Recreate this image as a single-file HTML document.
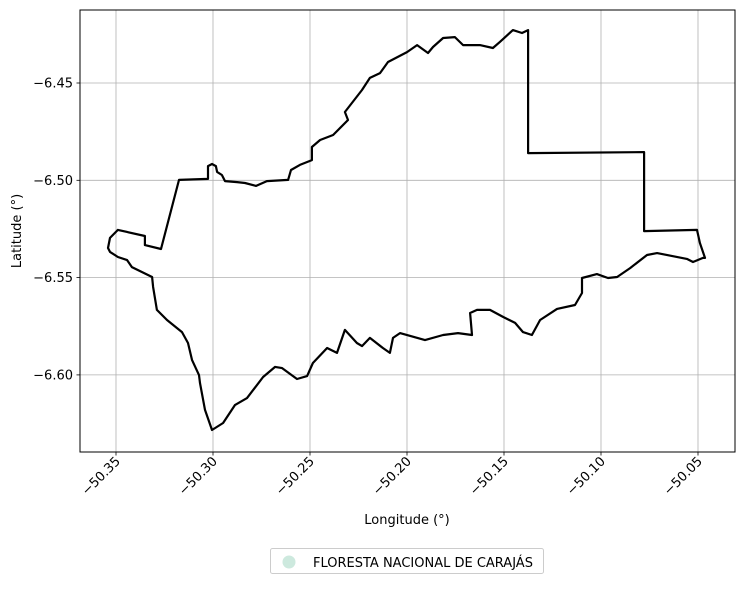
<!DOCTYPE html>
<html><head><meta charset="utf-8"><style>
body{margin:0;background:#fff;}
svg text{font-family:"DejaVu Sans","Liberation Sans",sans-serif;font-size:13px;fill:#000;}
</style></head><body>
<svg id="chart" width="743" height="584" xmlns="http://www.w3.org/2000/svg">
<g id="grid"></g>
<g id="shape"></g>
<rect x="80" y="10" width="655" height="442" fill="none" stroke="#000" stroke-width="1"/>
<g id="axes"></g>
<text x="407" y="524" text-anchor="middle">Longitude (°)</text>
<text transform="translate(21,231) rotate(-90)" text-anchor="middle">Latitude (°)</text>
<g>
<rect x="270.5" y="548.5" width="273" height="25" rx="2" fill="#fff" stroke="#ccc"/>
<circle cx="289" cy="562" r="6.5" fill="#cde9de"/>
<text x="313" y="567">FLORESTA NACIONAL DE CARAJÁS</text>
</g>
</svg>
<script>
const xTicks=[-50.35,-50.30,-50.25,-50.20,-50.15,-50.10,-50.05];
const yTicks=[-6.45,-6.50,-6.55,-6.60];
const lons=[-50.3490,-50.3351,-50.3351,-50.3268,-50.3175,-50.3026,-50.3026,-50.3005,-50.2985,-50.2979,-50.2954,-50.2938,-50.2876,-50.2835,-50.2778,-50.2722,-50.2613,-50.2598,-50.2552,-50.2490,-50.2490,-50.2448,-50.2381,-50.2304,-50.2320,-50.2232,-50.2191,-50.2139,-50.2098,-50.2000,-50.1948,-50.1892,-50.1866,-50.1814,-50.1753,-50.1711,-50.1624,-50.1557,-50.1521,-50.1454,-50.1407,-50.1376,-50.1376,-50.0778,-50.0778,-50.0505,-50.0490,-50.0464,-50.0474,-50.0526,-50.0557,-50.0711,-50.0763,-50.0850,-50.0917,-50.0964,-50.1021,-50.1098,-50.1098,-50.1134,-50.1227,-50.1314,-50.1356,-50.1402,-50.1443,-50.1505,-50.1572,-50.1639,-50.1675,-50.1665,-50.1737,-50.1814,-50.1907,-50.2036,-50.2072,-50.2088,-50.2124,-50.2191,-50.2232,-50.2258,-50.2320,-50.2361,-50.2412,-50.2485,-50.2515,-50.2567,-50.2644,-50.2680,-50.2742,-50.2825,-50.2887,-50.2948,-50.3005,-50.3041,-50.3067,-50.3072,-50.3108,-50.3129,-50.3160,-50.3237,-50.3289,-50.3309,-50.3314,-50.3418,-50.3443,-50.3490,-50.3531,-50.3541,-50.3531];
const lats=[-6.5255,-6.5286,-6.5333,-6.5353,-6.4998,-6.4993,-6.4927,-6.4916,-6.4927,-6.4957,-6.4973,-6.5004,-6.5009,-6.5014,-6.5029,-6.5004,-6.4998,-6.4947,-6.4921,-6.4896,-6.4829,-6.4793,-6.4767,-6.4690,-6.4649,-6.4536,-6.4474,-6.4449,-6.4392,-6.4341,-6.4305,-6.4346,-6.4315,-6.4269,-6.4264,-6.4305,-6.4305,-6.4320,-6.4289,-6.4228,-6.4243,-6.4228,-6.4860,-6.4855,-6.5261,-6.5255,-6.5322,-6.5399,-6.5399,-6.5420,-6.5404,-6.5374,-6.5384,-6.5451,-6.5497,-6.5502,-6.5482,-6.5502,-6.5579,-6.5641,-6.5661,-6.5718,-6.5795,-6.5780,-6.5733,-6.5702,-6.5666,-6.5666,-6.5682,-6.5795,-6.5785,-6.5795,-6.5821,-6.5785,-6.5810,-6.5887,-6.5862,-6.5810,-6.5852,-6.5836,-6.5769,-6.5887,-6.5862,-6.5939,-6.6006,-6.6021,-6.5965,-6.5959,-6.6011,-6.6119,-6.6155,-6.6247,-6.6283,-6.6180,-6.6042,-6.6001,-6.5923,-6.5836,-6.5780,-6.5718,-6.5666,-6.5548,-6.5497,-6.5446,-6.5410,-6.5394,-6.5368,-6.5348,-6.5296];
const NS='http://www.w3.org/2000/svg';
function xs(v){return 116+(v+50.35)*1940;}
function ys(v){return 83+(-6.45-v)*1946;}
function mk(t,a){const e=document.createElementNS(NS,t);for(const k in a)e.setAttribute(k,a[k]);return e;}
const grid=document.getElementById('grid'),axes=document.getElementById('axes'),shape=document.getElementById('shape');
xTicks.forEach(v=>{const x=xs(v);
 const g=mk('line',{x1:x,x2:x,y1:10,y2:452,stroke:'#b0b0b0','stroke-width':0.8});
 
 
 grid.appendChild(g);
 const t=mk('line',{x1:x,x2:x,y1:452,y2:455.5,stroke:'#000','stroke-width':0.8});
 
 
 axes.appendChild(t);
 const l=mk('text',{transform:`translate(${x+5},${462}) rotate(-45)`,'text-anchor':'end'});
 
 
 l.textContent=v.toFixed(2).replace('-','\u2212');axes.appendChild(l);});
yTicks.forEach(v=>{const y=ys(v);
 const g=mk('line',{x1:80,x2:735,y1:y,y2:y,stroke:'#b0b0b0','stroke-width':0.8});
 
 
 grid.appendChild(g);
 const t=mk('line',{x1:76.5,x2:80,y1:y,y2:y,stroke:'#000','stroke-width':0.8});
 
 
 axes.appendChild(t);
 const l=mk('text',{x:73,y:y+4.5,'text-anchor':'end'});
 
 
 l.textContent=v.toFixed(2).replace('-','\u2212');axes.appendChild(l);});
let d=lons.map((v,i)=>(i?'L':'M')+xs(v).toFixed(1)+','+ys(lats[i]).toFixed(1)).join(' ')+' Z';
const p=mk('path',{d:d,fill:'none',stroke:'#000','stroke-width':2.2,'stroke-linejoin':'round'});


shape.appendChild(p);
</script>
</body></html>
